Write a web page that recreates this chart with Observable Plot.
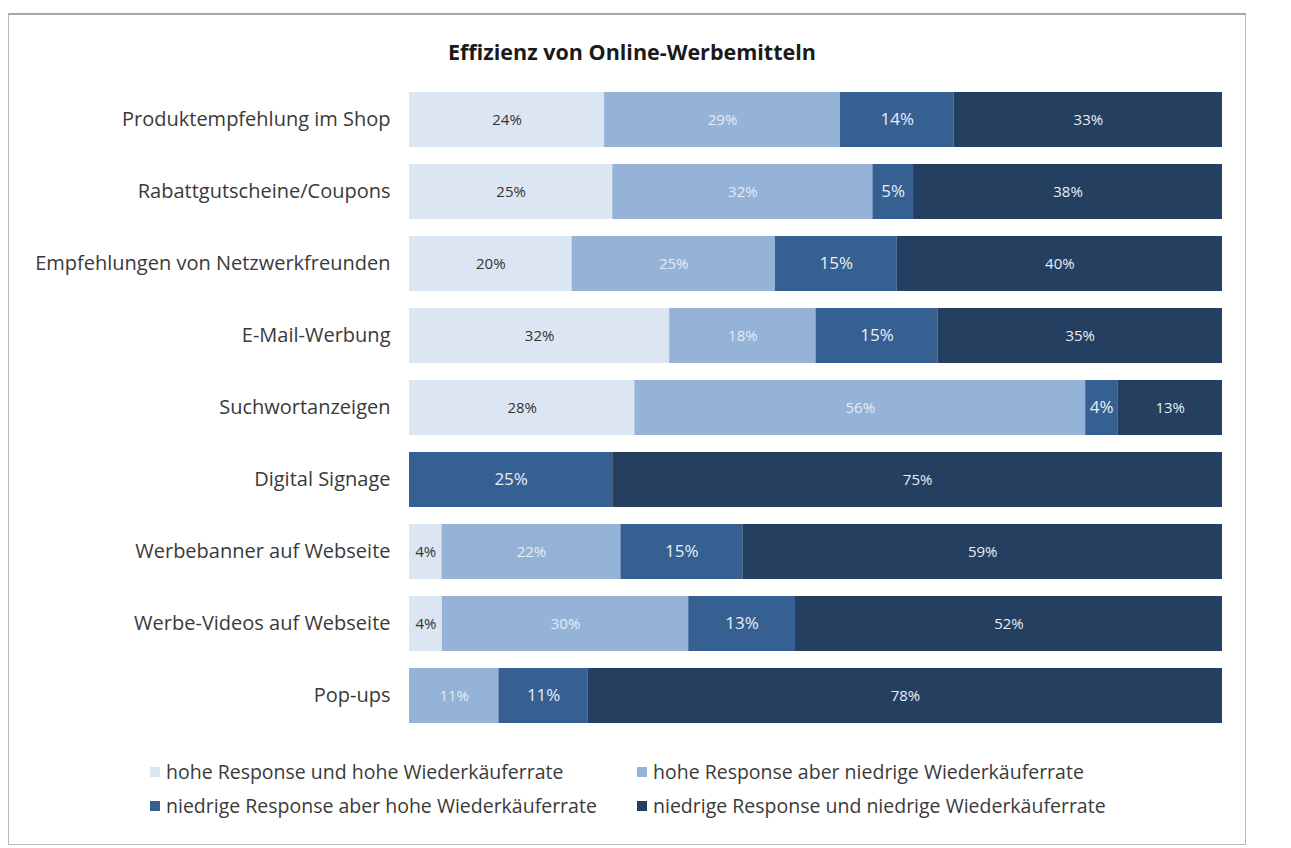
<!DOCTYPE html>
<html>
<head>
<meta charset="utf-8">
<script src="https://cdn.jsdelivr.net/npm/d3@7"></script>
<script src="https://cdn.jsdelivr.net/npm/@observablehq/plot@0.6"></script>
<style>
  html, body { margin: 0; padding: 0; background: #fff; }
  body { width: 1291px; height: 848px; position: relative; overflow: hidden; font-family: "Open Sans", Lato, sans-serif; }
  #frame { position: absolute; left: 8px; top: 13px; width: 1238px; height: 832px; border: 1px solid #b8b8b8; border-top: 2px solid #a8a8a8; box-sizing: border-box; }
  #title { position: absolute; left: 0; width: 1264px; top: 37px; text-align: center; font-weight: bold; font-size: 21.5px; color: #1a1a1a; }
  #chart { position: absolute; left: 0; top: 0; }
  .leg { position: absolute; font-size: 19.5px; color: #3a3a3a; white-space: nowrap; }
  .leg span.sw { display: inline-block; width: 10px; height: 10px; margin-right: 6px; vertical-align: 2px; }
</style>
</head>
<body>
<div id="frame"></div>
<div id="title">Effizienz von Online-Werbemitteln</div>
<div id="chart"></div>
<div id="legend"></div>
<script>
const categories = [
  "Produktempfehlung im Shop",
  "Rabattgutscheine/Coupons",
  "Empfehlungen von Netzwerkfreunden",
  "E-Mail-Werbung",
  "Suchwortanzeigen",
  "Digital Signage",
  "Werbebanner auf Webseite",
  "Werbe-Videos auf Webseite",
  "Pop-ups"
];
const seriesNames = [
  "hohe Response und hohe Wiederkäuferrate",
  "hohe Response aber niedrige Wiederkäuferrate",
  "niedrige Response aber hohe Wiederkäuferrate",
  "niedrige Response und niedrige Wiederkäuferrate"
];
// values in %, one array per series, in category order (0 = no segment)
const hoheHohe       = [24, 25, 20, 32, 28, 0, 4, 4, 0];
const hoheNiedrig    = [29, 32, 25, 18, 56, 0, 22, 30, 11];
const niedrigHohe    = [14, 5, 15, 15, 4, 25, 15, 13, 11];
const niedrigNiedrig = [33, 38, 40, 35, 13, 75, 59, 52, 78];
const seriesValues = [hoheHohe, hoheNiedrig, niedrigHohe, niedrigNiedrig];
const colors = ["#dce6f2", "#95b3d7", "#366092", "#243f60"];
const textColors = ["#333333", "#e4ecf6", "#e8eef6", "#e8eef6"];
const labelSizes = [15, 15, 17, 15];

const data = [];
seriesNames.forEach((s, si) => {
  categories.forEach((c, ci) => {
    const v = seriesValues[si][ci];
    if (v > 0) data.push({cat: c, series: s, si, value: v});
  });
});

const stackOpts = {x: "value", y: "cat", z: "series", offset: "normalize", order: seriesNames};

const chart = Plot.plot({
  width: 1291,
  height: 742,
  marginLeft: 409,
  marginRight: 69,
  marginTop: 73,
  marginBottom: 0,
  style: {fontFamily: "'Open Sans', Lato, sans-serif", background: "transparent"},
  x: {axis: null, domain: [0, 1]},
  y: {domain: categories, padding: 0.233, label: null},
  color: {domain: seriesNames, range: colors},
  marks: [
    Plot.barX(data, Plot.stackX({...stackOpts, fill: "series"})),
    Plot.text(data, Plot.stackX({
      ...stackOpts,
      text: d => d.value + "%",
      fill: d => textColors[d.si],
      fontSize: d => labelSizes[d.si]
    })),
    Plot.axisY({tickSize: 0, tickPadding: 19, fontSize: 20, color: "#3a3a3a", label: null})
  ]
});
document.getElementById("chart").appendChild(chart);

const legend = document.getElementById("legend");
const pos = [[150, 758], [637, 758], [150, 792], [637, 792]];
seriesNames.forEach((s, i) => {
  const d = document.createElement("div");
  d.className = "leg";
  d.style.left = pos[i][0] + "px";
  d.style.top = pos[i][1] + "px";
  d.innerHTML = `<span class="sw" style="background:${colors[i]}"></span>${s}`;
  legend.appendChild(d);
});
</script>
</body>
</html>
